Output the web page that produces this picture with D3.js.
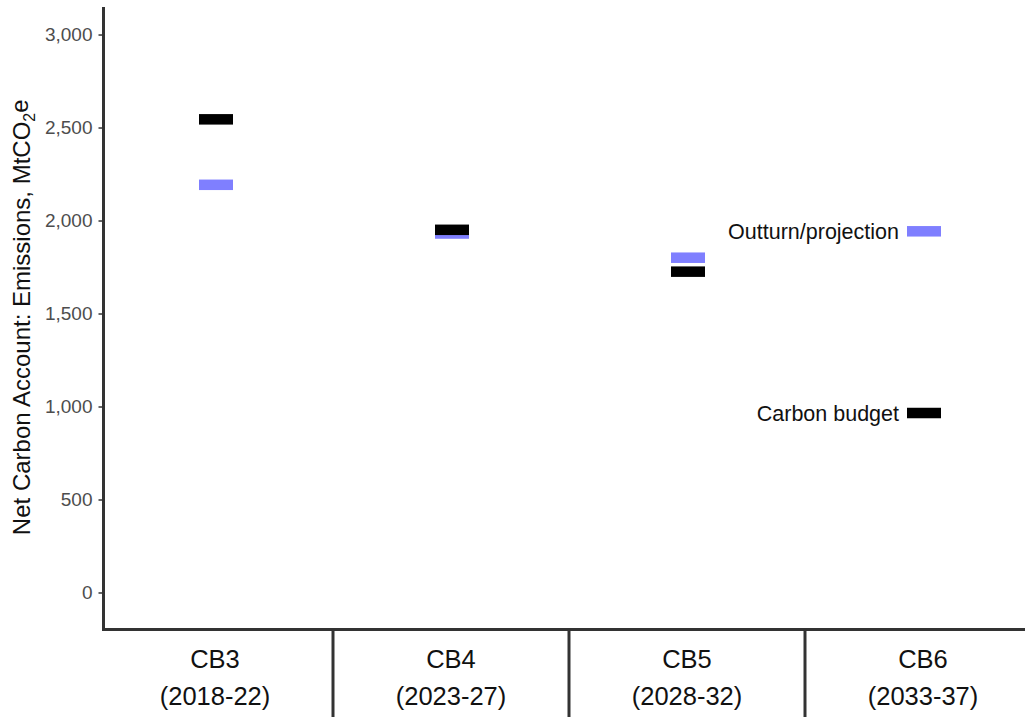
<!DOCTYPE html>
<html>
<head>
<meta charset="utf-8">
<script src="https://cdn.jsdelivr.net/npm/d3@7"></script>
<style>
  html, body { margin: 0; padding: 0; background: #fff; }
  svg { display: block; font-family: "Liberation Sans", Arial, sans-serif; }
</style>
</head>
<body>
<svg id="chart" width="1025" height="717"></svg>
<script>
const categories = ["CB3", "CB4", "CB5", "CB6"];
const periods = ["(2018-22)", "(2023-27)", "(2028-32)", "(2033-37)"];
const carbonBudget = [2544, 1950, 1725, 965];
const outturnProjection = [2192, 1930, 1800, 1942];
const yTicks = [0, 500, 1000, 1500, 2000, 2500, 3000];
const seriesLabels = ["Outturn/projection", "Carbon budget"];

const svg = d3.select("#chart");
const W = 1025, H = 717;
const axisX = 103.5, axisBottom = 629.5, axisTop = 7;

const y = d3.scaleLinear().domain([-199, 3148]).range([axisBottom, axisTop]);
const x = d3.scaleBand().domain(categories).range([97, 1041]).padding(0);

const axisColor = "#333333";

// y axis
const yAxis = d3.axisLeft(y).tickValues(yTicks).tickFormat(d3.format(",")).tickSize(5).tickPadding(6);
const gy = svg.append("g").attr("transform", `translate(${axisX},0)`).call(yAxis);
gy.select(".domain").remove();
gy.selectAll(".tick line").attr("stroke", axisColor).attr("stroke-width", 1.5);
gy.selectAll(".tick text").attr("fill", "#4d4d4d").style("font-size", "19px")
  .style("font-family", "'Liberation Sans', Arial, sans-serif");
svg.append("line").attr("x1", axisX).attr("x2", axisX).attr("y1", axisTop).attr("y2", axisBottom + 1.5)
  .attr("stroke", axisColor).attr("stroke-width", 3);

// x axis line
svg.append("line").attr("x1", axisX - 1.5).attr("x2", W).attr("y1", axisBottom).attr("y2", axisBottom)
  .attr("stroke", axisColor).attr("stroke-width", 3);

// separators between categories
svg.selectAll("line.sep").data(categories.slice(1)).enter().append("line")
  .attr("class", "sep")
  .attr("x1", d => x(d)).attr("x2", d => x(d))
  .attr("y1", axisBottom).attr("y2", H)
  .attr("stroke", axisColor).attr("stroke-width", 3);

// category labels
const catG = svg.selectAll("g.cat").data(categories).enter().append("g").attr("class", "cat");
catG.append("text")
  .attr("x", d => x(d) + x.bandwidth() / 2).attr("y", 668)
  .attr("text-anchor", "middle").attr("fill", "#111").style("font-size", "25.5px")
  .text(d => d);
catG.append("text")
  .attr("x", d => x(d) + x.bandwidth() / 2).attr("y", 705)
  .attr("text-anchor", "middle").attr("fill", "#111").style("font-size", "25.5px")
  .text((d, i) => periods[i]);

// marks
const markW = 34, markH = 10.5;
const cx = d => x(d) + x.bandwidth() / 2 + 1;
svg.selectAll("rect.out").data(categories).enter().append("rect")
  .attr("class", "out")
  .attr("x", d => cx(d) - markW / 2)
  .attr("y", (d, i) => y(outturnProjection[i]) - markH / 2)
  .attr("width", markW).attr("height", markH)
  .attr("fill", "#7f7fff");
svg.selectAll("rect.bud").data(categories).enter().append("rect")
  .attr("class", "bud")
  .attr("x", d => cx(d) - markW / 2)
  .attr("y", (d, i) => y(carbonBudget[i]) - markH / 2)
  .attr("width", markW).attr("height", markH)
  .attr("fill", "#000000");

// labels next to last category marks
const last = categories[categories.length - 1];
const lastI = categories.length - 1;
svg.append("text")
  .attr("x", cx(last) - markW / 2 - 8).attr("y", y(outturnProjection[lastI]))
  .attr("dy", "0.36em").attr("text-anchor", "end").attr("fill", "#111")
  .style("font-size", "21.5px").text(seriesLabels[0]);
svg.append("text")
  .attr("x", cx(last) - markW / 2 - 8).attr("y", y(carbonBudget[lastI]))
  .attr("dy", "0.36em").attr("text-anchor", "end").attr("fill", "#111")
  .style("font-size", "21.5px").text(seriesLabels[1]);

// y axis title
const t = svg.append("text")
  .attr("transform", `translate(30,${(axisTop + axisBottom) / 2 - 1}) rotate(-90)`)
  .attr("text-anchor", "middle").attr("fill", "#111").style("font-size", "24px");
t.append("tspan").text("Net Carbon Account: Emissions, MtCO");
t.append("tspan").attr("dy", "0.3em").style("font-size", "16px").text("2");
t.append("tspan").attr("dy", "-0.3em").text("e");
</script>
</body>
</html>
